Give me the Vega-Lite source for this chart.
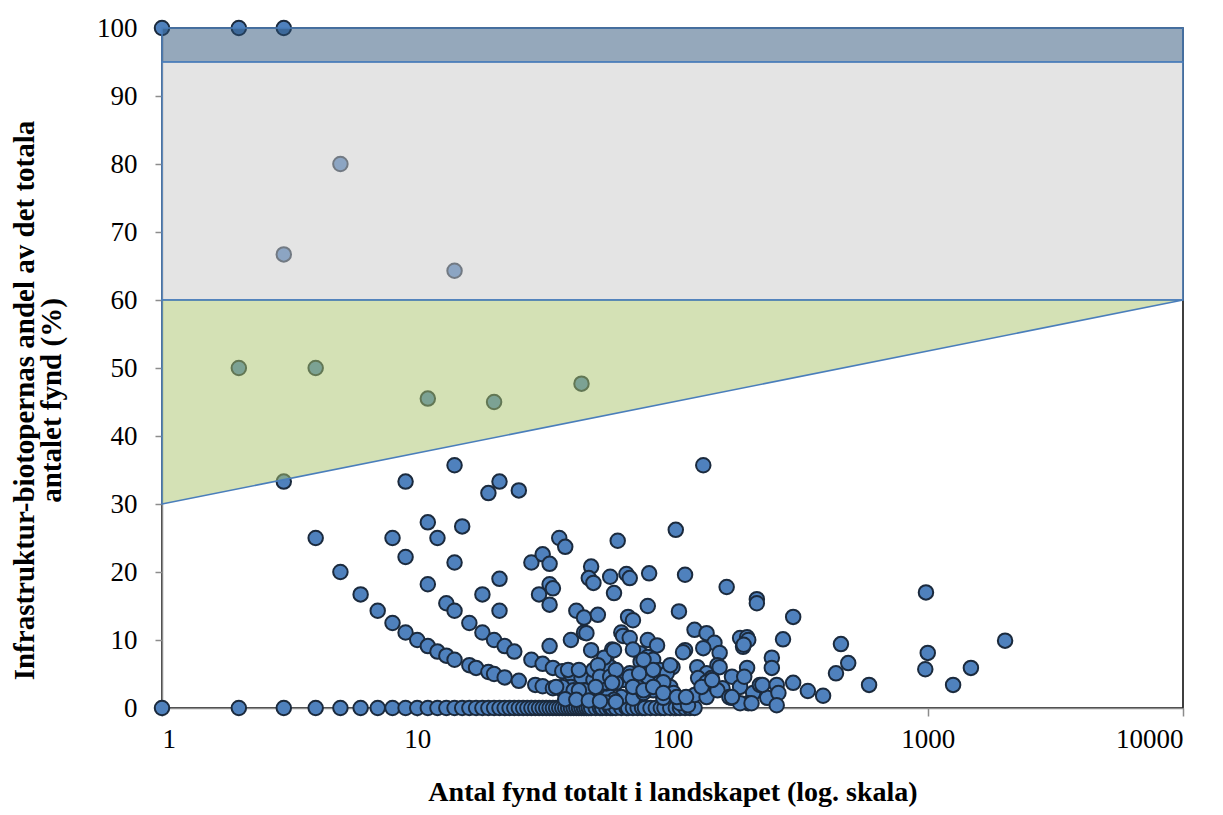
{
  "$schema": "https://vega.github.io/schema/vega-lite/v6.json",
  "width": 1021,
  "height": 680,
  "autosize": {"type": "none"},
  "padding": {"left": 162, "top": 28, "right": 40, "bottom": 107},
  "background": "white",
  "config": {
    "view": {"stroke": "#000", "strokeWidth": 1.5},
    "axis": {
      "labelFont": "Liberation Serif", "titleFont": "Liberation Serif",
      "labelColor": "#000", "titleColor": "#000",
      "domainColor": "#8c8c8c", "tickColor": "#8c8c8c",
      "domainWidth": 1.5, "tickWidth": 1.5,
      "grid": false, "labelFontSize": 27, "titleFontSize": 28, "titleFontWeight": "bold"
    }
  },
  "datasets": {
    "points": [
      {"n":1,"pct":0},{"n":2,"pct":0},{"n":3,"pct":0},{"n":4,"pct":0},{"n":5,"pct":0},{"n":6,"pct":0},{"n":7,"pct":0},{"n":8,"pct":0},{"n":9,"pct":0},{"n":10,"pct":0},
      {"n":11,"pct":0},{"n":12,"pct":0},{"n":13,"pct":0},{"n":14,"pct":0},{"n":15,"pct":0},{"n":16,"pct":0},{"n":17,"pct":0},{"n":18,"pct":0},{"n":19,"pct":0},{"n":20,"pct":0},
      {"n":21,"pct":0},{"n":22,"pct":0},{"n":23,"pct":0},{"n":24,"pct":0},{"n":25,"pct":0},{"n":26,"pct":0},{"n":27,"pct":0},{"n":28,"pct":0},{"n":29,"pct":0},{"n":30,"pct":0},
      {"n":31,"pct":0},{"n":32,"pct":0},{"n":33,"pct":0},{"n":34,"pct":0},{"n":35,"pct":0},{"n":36,"pct":0},{"n":37,"pct":0},{"n":38,"pct":0},{"n":39,"pct":0},{"n":40,"pct":0},
      {"n":41,"pct":0},{"n":42,"pct":0},{"n":43,"pct":0},{"n":44,"pct":0},{"n":45,"pct":0},{"n":46,"pct":0},{"n":47,"pct":0},{"n":48,"pct":0},{"n":50,"pct":0},{"n":52,"pct":0},
      {"n":53,"pct":0},{"n":55,"pct":0},{"n":57,"pct":0},{"n":58,"pct":0},{"n":60,"pct":0},{"n":63,"pct":0},{"n":66,"pct":0},{"n":67,"pct":0},{"n":70,"pct":0},{"n":73,"pct":0},
      {"n":76,"pct":0},{"n":78,"pct":0},{"n":82,"pct":0},{"n":86,"pct":0},{"n":90,"pct":0},{"n":93,"pct":0},{"n":98,"pct":0},{"n":103,"pct":0},{"n":107,"pct":0},{"n":112,"pct":0},
      {"n":117,"pct":0},{"n":122,"pct":0},
      {"n":1,"pct":100},{"n":2,"pct":100},{"n":3,"pct":100},{"n":5,"pct":80},{"n":3,"pct":66.7},{"n":14,"pct":64.3},{"n":2,"pct":50},{"n":4,"pct":50},{"n":11,"pct":45.5},{"n":20,"pct":45},{"n":44,"pct":47.7},{"n":3,"pct":33.3},
      {"n":4,"pct":25},{"n":5,"pct":20},{"n":6,"pct":16.7},{"n":7,"pct":14.3},{"n":8,"pct":12.5},{"n":9,"pct":11.1},{"n":10,"pct":10},{"n":11,"pct":9.1},{"n":12,"pct":8.3},{"n":13,"pct":7.7},
      {"n":14,"pct":7.1},{"n":16,"pct":6.3},{"n":17,"pct":5.9},{"n":19,"pct":5.3},{"n":20,"pct":5},{"n":22,"pct":4.5},{"n":25,"pct":4},{"n":29,"pct":3.4},{"n":31,"pct":3.2},{"n":34,"pct":2.9},
      {"n":37,"pct":2.7},{"n":41,"pct":2.4},{"n":45,"pct":2.2},{"n":50,"pct":2},{"n":56,"pct":1.8},{"n":63,"pct":1.6},{"n":70,"pct":1.4},
      {"n":8,"pct":25},{"n":9,"pct":22.2},{"n":11,"pct":18.2},{"n":13,"pct":15.4},{"n":14,"pct":14.3},{"n":16,"pct":12.5},{"n":18,"pct":11.1},{"n":20,"pct":10},{"n":22,"pct":9.1},{"n":24,"pct":8.3},
      {"n":28,"pct":7.1},{"n":31,"pct":6.5},{"n":34,"pct":5.9},{"n":37,"pct":5.4},{"n":40,"pct":5},{"n":44,"pct":4.5},{"n":49,"pct":4.1},{"n":55,"pct":3.6},
      {"n":14,"pct":35.7},{"n":132,"pct":35.7},{"n":9,"pct":33.3},{"n":21,"pct":33.3},{"n":19,"pct":31.6},{"n":25,"pct":32},{"n":11,"pct":27.3},{"n":15,"pct":26.7},{"n":12,"pct":25},{"n":14,"pct":21.4},
      {"n":103,"pct":26.2},{"n":61,"pct":24.6},{"n":36,"pct":25},{"n":38,"pct":23.7},{"n":28,"pct":21.4},{"n":31,"pct":22.6},{"n":33,"pct":21.2},{"n":21,"pct":19},{"n":18,"pct":16.7},{"n":21,"pct":14.3},
      {"n":30,"pct":16.7},{"n":33,"pct":18.2},{"n":34,"pct":17.6},{"n":33,"pct":15.2},{"n":48,"pct":20.8},{"n":47,"pct":19.1},{"n":49,"pct":18.4},{"n":57,"pct":19.3},{"n":59,"pct":16.9},{"n":66,"pct":19.7},
      {"n":68,"pct":19.1},{"n":81,"pct":19.8},{"n":112,"pct":19.6},{"n":163,"pct":17.8},{"n":214,"pct":16},{"n":214,"pct":15.4},{"n":80,"pct":15},{"n":106,"pct":14.2},{"n":42,"pct":14.3},{"n":45,"pct":13.3},
      {"n":51,"pct":13.7},{"n":67,"pct":13.4},{"n":70,"pct":12.9},{"n":122,"pct":11.5},{"n":136,"pct":11},{"n":146,"pct":9.6},{"n":184,"pct":10.3},{"n":196,"pct":10.4},{"n":189,"pct":9},{"n":45,"pct":11.1},
      {"n":40,"pct":10},{"n":63,"pct":11.1},{"n":64,"pct":10.6},{"n":68,"pct":10.3},{"n":80,"pct":10},{"n":87,"pct":9.2},{"n":33,"pct":9.1},{"n":58,"pct":8.6},{"n":55,"pct":7.3},{"n":48,"pct":8.5},
      {"n":75,"pct":8},{"n":80,"pct":7.5},{"n":84,"pct":7.1},{"n":112,"pct":8.5},{"n":132,"pct":8.8},{"n":153,"pct":8.1},{"n":150,"pct":6.3},{"n":125,"pct":6},{"n":136,"pct":5.1},{"n":126,"pct":4.4},
      {"n":142,"pct":4.4},{"n":100,"pct":6},{"n":89,"pct":5.6},{"n":95,"pct":5.1},{"n":196,"pct":5.9},{"n":171,"pct":4.6},{"n":184,"pct":3.1},{"n":157,"pct":2.9},{"n":170,"pct":1.5},{"n":207,"pct":2.2},
      {"n":198,"pct":0.7},{"n":81,"pct":4.1},{"n":89,"pct":3.7},{"n":98,"pct":3.1},{"n":92,"pct":1.5},{"n":107,"pct":0.7},{"n":101,"pct":2.2},{"n":84,"pct":2.6},{"n":73,"pct":3.1},{"n":77,"pct":2.2},
      {"n":39,"pct":5.6},{"n":40,"pct":3.1},{"n":43,"pct":5.6},{"n":45,"pct":2.6},{"n":49,"pct":5.6},{"n":51,"pct":3.1},{"n":54,"pct":4.1},{"n":59,"pct":3.7},{"n":59,"pct":1.2},{"n":55,"pct":0.8},
      {"n":68,"pct":5.1},{"n":64,"pct":4.1},{"n":57,"pct":6},{"n":46,"pct":11},{"n":54,"pct":7.4},{"n":51,"pct":6.3},{"n":59,"pct":8.5},{"n":98,"pct":6.3},{"n":75,"pct":6.8},{"n":37,"pct":3.1},
      {"n":41,"pct":2.6},{"n":55,"pct":3.7},{"n":60,"pct":3.7},{"n":68,"pct":4.6},{"n":92,"pct":3.8},{"n":110,"pct":8.2},{"n":153,"pct":6},{"n":220,"pct":3.4},{"n":115,"pct":0.4},{"n":122,"pct":1.9},
      {"n":136,"pct":3.8},{"n":136,"pct":1.6},{"n":150,"pct":2.6},{"n":167,"pct":1.6},{"n":184,"pct":0.7},{"n":235,"pct":1.5},
      {"n":52,"pct":4.6},{"n":57,"pct":4.6},{"n":60,"pct":5.6},{"n":74,"pct":5.1},{"n":84,"pct":5.6},{"n":70,"pct":8.6},{"n":77,"pct":7.1},
      {"n":35,"pct":3.1},{"n":43,"pct":2.6},{"n":50,"pct":3.1},{"n":58,"pct":3.7},{"n":70,"pct":3.1},{"n":77,"pct":2.6},{"n":84,"pct":3.1},{"n":92,"pct":2.2},{"n":104,"pct":1.6},{"n":113,"pct":1.6},
      {"n":130,"pct":3.1},{"n":143,"pct":4.1},{"n":171,"pct":1.6},{"n":38,"pct":1.3},{"n":42,"pct":1.2},{"n":47,"pct":1.1},{"n":52,"pct":1},{"n":60,"pct":0.9},
      {"n":984,"pct":17},{"n":297,"pct":13.4},{"n":198,"pct":10},{"n":190,"pct":9.3},{"n":271,"pct":10.1},{"n":457,"pct":9.4},{"n":1000,"pct":8.1},{"n":978,"pct":5.7},{"n":488,"pct":6.6},{"n":437,"pct":5.1},
      {"n":245,"pct":7.4},{"n":245,"pct":5.9},{"n":191,"pct":4.6},{"n":225,"pct":3.4},{"n":204,"pct":0.7},{"n":256,"pct":3.4},{"n":260,"pct":2.2},{"n":256,"pct":0.4},{"n":297,"pct":3.7},{"n":339,"pct":2.5},
      {"n":389,"pct":1.8},{"n":589,"pct":3.4},{"n":2009,"pct":9.9},{"n":1476,"pct":5.9},{"n":1257,"pct":3.4}
    ],
    "bands": [
      {"zone": "100", "n": 1, "n2": 10000, "pct": 95, "pct2": 100},
      {"zone": "60-95", "n": 1, "n2": 10000, "pct": 60, "pct2": 95}
    ],
    "wedge": [
      {"n": 1, "pct": 30, "pct2": 60},
      {"n": 10000, "pct": 60, "pct2": 60}
    ]
  },
  "encoding": {
    "x": {
      "field": "n", "type": "quantitative",
      "scale": {"type": "log", "domain": [1, 10000], "nice": false},
      "axis": {
        "values": [1, 10, 100, 1000, 10000], "format": "d",
        "tickSize": 8, "labelPadding": 10,
        "title": "Antal fynd totalt i landskapet (log. skala)",
        "titleBaseline": "alphabetic", "titleY": 92
      }
    },
    "y": {
      "field": "pct", "type": "quantitative",
      "scale": {"domain": [0, 100], "nice": false},
      "axis": {
        "values": [0, 10, 20, 30, 40, 50, 60, 70, 80, 90, 100],
        "tickSize": 7, "labelPadding": 18,
        "title": ["Infrastruktur-biotopernas andel av det totala", "antalet fynd (%)"],
        "titleFontSize": 29,
        "titleAngle": -90, "titleX": -152, "titleY": 372,
        "titleAlign": "center", "titleBaseline": "top", "titleLineHeight": 27
      }
    }
  },
  "layer": [
    {
      "data": {"name": "points"},
      "mark": {"type": "circle", "size": 210, "fill": "#4f81bd", "stroke": "#1b2a3d", "strokeWidth": 2, "opacity": 1}
    },
    {
      "data": {"name": "bands"},
      "mark": {"type": "rect", "fillOpacity": 0.5, "stroke": "#4a7ebb", "strokeWidth": 1.5},
      "encoding": {
        "x2": {"field": "n2"},
        "y2": {"field": "pct2"},
        "fill": {"field": "zone", "type": "nominal", "scale": {"domain": ["100", "60-95"], "range": ["#2b5178", "#c9c9c9"]}, "legend": null}
      }
    },
    {
      "data": {"name": "wedge"},
      "mark": {"type": "area", "fill": "#a9c36b", "fillOpacity": 0.5, "stroke": "#4a7ebb", "strokeWidth": 1.5},
      "encoding": {
        "y2": {"field": "pct2"}
      }
    }
  ]
}
